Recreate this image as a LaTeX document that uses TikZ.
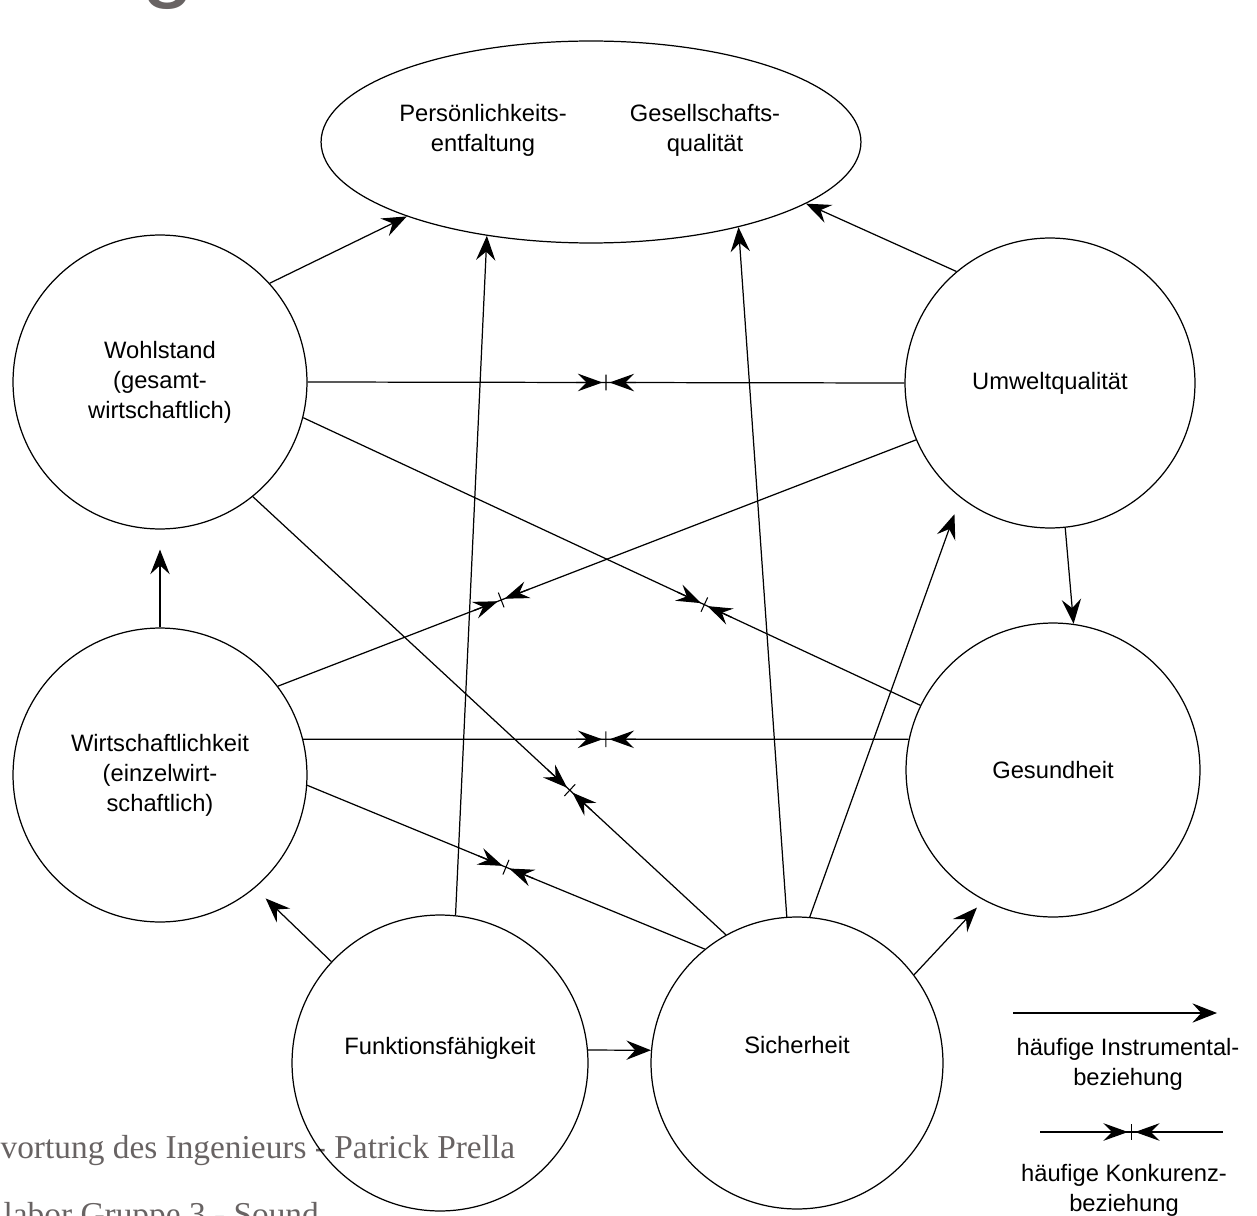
\documentclass[tikz,border=0pt]{standalone}
\usepackage{fontspec}
\setmainfont{Liberation Sans}
\newfontfamily\folienschrift{Liberation Serif}
\usetikzlibrary{shapes.geometric, arrows.meta, decorations.markings}
\definecolor{foliengrau}{RGB}{104,99,99}

\begin{document}
\begin{tikzpicture}[x=0.02cm, y=-0.02cm, line width=0.7pt,
        beschr/.style={font=\fontsize{13.5}{17}\selectfont, align=center, inner sep=0pt},
        kreis/.style={circle, draw, minimum size=#1, beschr},
        kreis/.default=5.88cm,
        instr/.style={-{Stealth[length=14pt, width=11pt, inset=5pt]}},
        konkurrenz/.style={postaction={decorate}, decoration={markings,
            mark=at position #1 with {
                \draw[-{Stealth[length=14pt, width=10pt, inset=5pt]}] (-17pt, 0) -- (-2pt, 0);
                \draw[-{Stealth[length=14pt, width=10pt, inset=5pt]}] (17pt, 0) -- (2pt, 0);
                \draw[line width=0.6pt] (0, -4.5pt) -- (0, 4.5pt);}}},
        konkurrenz/.default=0.5,
        folie/.style={font=\folienschrift\fontsize{19}{22}\selectfont, text=foliengrau, inner sep=0pt, anchor=base west}]
    \useasboundingbox (0, 0) rectangle (1257, 1216);
    \clip (0, 0) rectangle (1257, 1216);

    \node[font=\fontsize{55}{60}\selectfont, text=foliengrau, inner sep=0pt, anchor=base] (titel) at (168, -10) {g};
    \node[folie] (fuss1) at (0, 1158) {vortung des Ingenieurs - Patrick Prella};
    \node[folie] (fuss2) at (3, 1225) {labor Gruppe 3 - Sound};

    \node[ellipse, draw, minimum width=10.8cm, minimum height=4.04cm] (ziel) at (591, 142) {};
    \node[beschr] (pers) at (483, 130) {Persönlichkeits-\\entfaltung};
    \node[beschr] (ges) at (705, 130) {Gesellschafts-\\qualität};

    \node[kreis] (wohl) at (160, 382) {Wohlstand\\(gesamt-\\wirtschaftlich)};
    \node[kreis=5.8cm] (umwelt) at (1050, 383) {Umweltqualität};
    \node[kreis] (wirt) at (160, 775) {Wirtschaftlichkeit\\(einzelwirt-\\schaftlich)};
    \node[kreis] (gesund) at (1053, 770) {Gesundheit};
    \node[kreis=5.92cm, label={[beschr, yshift=0.3cm]center:Funktionsfähigkeit}] (funk) at (440, 1063) {};
    \node[kreis=5.84cm, label={[beschr, yshift=0.36cm]center:Sicherheit}] (sich) at (797, 1063) {};

    \draw[instr] (wohl.42) -- (ziel.202);
    \draw[instr] (funk.84) -- (ziel.222);
    \draw[instr] (sich.94) -- (ziel.330);
    \draw[instr] (umwelt.130) -- (ziel.344);
    \draw[instr, shorten >=0.4cm] (wirt.90) -- (wohl.270);
    \draw[instr, shorten >=0.3cm] (funk.137) -- (wirt.310);
    \draw[instr] (funk.5) -- (sich.175);
    \draw[instr, shorten >=0.35cm] (sich.85) -- (umwelt.232);
    \draw[instr, shorten >=0.2cm] (sich.37) -- (gesund.242);
    \draw[instr] (umwelt.276) -- (gesund.82);

    \draw[konkurrenz] (wohl.0) -- (umwelt.180);
    \draw[konkurrenz=0.35] (wirt.37) -- (umwelt.203);
    \draw[konkurrenz=0.65] (wohl.346) -- (gesund.154);
    \draw[konkurrenz] (wirt.14) -- (gesund.168);
    \draw[konkurrenz=0.67] (wohl.309) -- (sich.119);
    \draw[konkurrenz] (wirt.356) -- (sich.129);

    \coordinate (legI1) at (1013, 1013);
    \coordinate (legI2) at (1217, 1013);
    \draw[instr] (legI1) -- (legI2);
    \node[beschr] (legItext) at (1128, 1064) {häufige Instrumental-\\beziehung};
    \coordinate (legK1) at (1040, 1132);
    \coordinate (legK2) at (1223, 1132);
    \draw[konkurrenz] (legK1) -- (legK2);
    \node[beschr] (legKtext) at (1124, 1190) {häufige Konkurenz-\\beziehung};
\end{tikzpicture}
\end{document}
